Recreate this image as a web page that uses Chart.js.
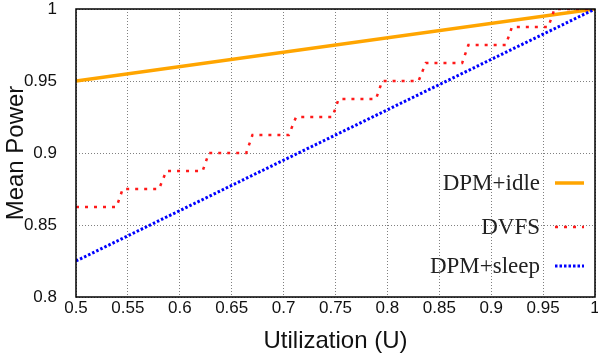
<!DOCTYPE html>
<html>
<head>
<meta charset="utf-8">
<script src="https://cdn.jsdelivr.net/npm/chart.js@4"></script>
<style>
  body { margin: 0; background: #fff; }
</style>
</head>
<body>
<canvas id="chart" width="598" height="360"></canvas>
<script>
// values
const idleX = [0.5, 1.0];
const idleY = [0.95, 1.0];

const sleepX = [0.5, 1.0];
const sleepY = [0.825, 1.0];

const dvfsX = [0.5, 0.539, 0.545, 0.580, 0.587, 0.622, 0.628, 0.664, 0.670, 0.705, 0.712, 0.747,
               0.753, 0.789, 0.795, 0.830, 0.837, 0.872, 0.878, 0.914, 0.920, 0.955, 0.961, 1.0];
const dvfsY = [0.8625, 0.8625, 0.875, 0.875, 0.8875, 0.8875, 0.9, 0.9, 0.9125, 0.9125, 0.925, 0.925,
               0.9375, 0.9375, 0.95, 0.95, 0.9625, 0.9625, 0.975, 0.975, 0.9875, 0.9875, 1.0, 1.0];

const xTicks = [0.5, 0.55, 0.6, 0.65, 0.7, 0.75, 0.8, 0.85, 0.9, 0.95, 1];
const xTickLabels = ['0.5', '0.55', '0.6', '0.65', '0.7', '0.75', '0.8', '0.85', '0.9', '0.95', '1'];
const yTicks = [0.8, 0.85, 0.9, 0.95, 1];
const yTickLabels = ['0.8', '0.85', '0.9', '0.95', '1'];

const seriesNames = ['DPM+idle', 'DVFS', 'DPM+sleep'];

const toPts = (xs, ys) => xs.map((x, i) => ({ x: x, y: ys[i] }));

const datasets = [
    { label: seriesNames[0], data: toPts(idleX, idleY), borderColor: '#ffa500', borderWidth: 3.5, order: 3 },
    { label: seriesNames[1], data: toPts(dvfsX, dvfsY), borderColor: '#ff1a1a', borderWidth: 2.5, borderDash: [3, 6], order: 2 },
    { label: seriesNames[2], data: toPts(sleepX, sleepY), borderColor: '#0000ff', borderWidth: 3, borderDash: [2.5, 2], order: 1 }
];
datasets.forEach(d => { d.pointRadius = 0; d.fill = false; d.tension = 0; });

// frame around plot + legend inside it, gnuplot style
const framePlugin = {
    id: 'frame',
    afterDraw(chart) {
        const ctx = chart.ctx;
        const a = chart.chartArea;
        ctx.save();
        ctx.strokeStyle = '#000';
        ctx.lineWidth = 1.5;
        ctx.strokeRect(a.left, a.top, a.right - a.left, a.bottom - a.top);

        const rows = [183, 227, 266];
        ctx.font = '23px "Liberation Serif", "Times New Roman", serif';
        ctx.textAlign = 'right';
        ctx.textBaseline = 'middle';
        chart.data.datasets.forEach((ds, i) => {
            ctx.fillStyle = '#222';
            ctx.fillText(ds.label, 540, rows[i] + 1);
            ctx.beginPath();
            ctx.strokeStyle = ds.borderColor;
            ctx.lineWidth = ds.borderWidth;
            ctx.setLineDash(ds.borderDash || []);
            ctx.moveTo(555, rows[i]);
            ctx.lineTo(584, rows[i]);
            ctx.stroke();
        });
        ctx.restore();
    }
};

const tickFont = { family: '"Liberation Sans", Arial, sans-serif', size: 17 };
const titleFont = { family: '"Liberation Sans", Arial, sans-serif', size: 24 };
const gridOpts = { color: '#808080', lineWidth: 1, drawTicks: false };

new Chart(document.getElementById('chart'), {
    type: 'line',
    data: { datasets: datasets },
    options: {
        responsive: false,
        devicePixelRatio: 1,
        animation: false,
        layout: { padding: { top: 9, right: 3, left: 0, bottom: 0 } },
        plugins: { legend: { display: false }, tooltip: { enabled: false } },
        scales: {
            x: {
                type: 'linear',
                min: 0.5,
                max: 1,
                afterBuildTicks: s => { s.ticks = xTicks.map(v => ({ value: v })); },
                afterFit: s => { s.height = 63; s.paddingLeft = 0; s.paddingRight = 0; },
                ticks: {
                    font: tickFont, color: '#111', padding: 1, maxRotation: 0,
                    callback: (v, i) => xTickLabels[i]
                },
                grid: gridOpts,
                border: { display: false, dash: [1, 2] },
                title: { display: true, text: 'Utilization (U)', font: titleFont, color: '#111', padding: { top: 0, bottom: 4 } }
            },
            y: {
                min: 0.8,
                max: 1,
                afterBuildTicks: s => { s.ticks = yTicks.map(v => ({ value: v })); },
                afterFit: s => { s.width = 76; s.paddingTop = 0; s.paddingBottom = 0; },
                ticks: {
                    font: tickFont, color: '#111', padding: 19,
                    callback: (v, i) => yTickLabels[i]
                },
                grid: gridOpts,
                border: { display: false, dash: [1, 2] },
                title: { display: true, text: 'Mean Power', font: titleFont, color: '#111', padding: { top: 2, bottom: 0 } }
            }
        }
    },
    plugins: [framePlugin]
});
</script>
</body>
</html>
